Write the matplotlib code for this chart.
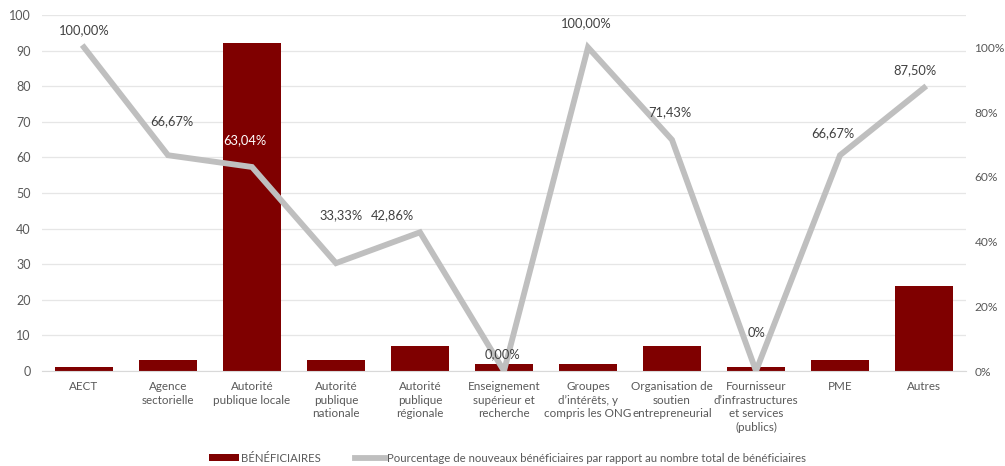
import matplotlib
matplotlib.use("Agg")
import matplotlib.pyplot as plt
from matplotlib.ticker import FixedLocator

plt.rcParams['font.family'] = ['Lato', 'DejaVu Sans']

categories = ["AECT", "Agence\nsectorielle", "Autorité\npublique locale",
              "Autorité\npublique\nnationale", "Autorité\npublique\nrégionale",
              "Enseignement\nsupérieur et\nrecherche", "Groupes\nd’intérêts, y\ncompris les ONG",
              "Organisation de\nsoutien\nentrepreneurial",
              "Fournisseur\nd’infrastructures\net services\n(publics)", "PME", "Autres"]
beneficiaires = [1, 3, 92, 3, 7, 2, 2, 7, 1, 3, 24]
pourcentage = [100.0, 66.67, 63.04, 33.33, 42.86, 0.0, 100.0, 71.43, 0.0, 66.67, 87.50]
point_labels = ["100,00%", "66,67%", "63,04%", "33,33%", "42,86%", "0,00%",
                "100,00%", "71,43%", "0%", "66,67%", "87,50%"]
left_ticks = [0, 10, 20, 30, 40, 50, 60, 70, 80, 90, 100]
right_ticks = [0, 20, 40, 60, 80, 100]

# label placement offsets (x in category units, y in percent units)
lab_dx = [0.0, 0.05, -0.08, 0.06, -0.33, -0.02, -0.02, -0.02, 0.01, -0.08, -0.11]
lab_dy = [5.2, 10.5, 8.3, 14.8, 5.2, 5.2, 7.4, 8.5, 11.7, 6.8, 5.4]

txt = '#595959'
fig = plt.figure(figsize=(10.05, 4.66), dpi=100)
ax = fig.add_axes([42/1005, 95/466, 924/1005, 356/466])
x = list(range(len(categories)))
ax.bar(x, beneficiaires, width=0.68, color='#7F0000', zorder=2, label='BÉNÉFICIAIRES')
ax.set_ylim(0, 100)
ax.set_xlim(-0.5, len(categories) - 0.5)
ax.yaxis.set_major_locator(FixedLocator(left_ticks))
ax.grid(axis='y', color='#E6E6E6', linewidth=0.9, zorder=0)
ax.set_axisbelow(True)
for s in ['top', 'right', 'left']:
    ax.spines[s].set_visible(False)
ax.spines['bottom'].set_color('#D9D9D9')
ax.tick_params(axis='both', length=0, colors=txt, labelsize=9)
ax.tick_params(axis='y', pad=8)
ax.set_xticks(x)
ax.set_xticklabels(categories, fontsize=8.4, color=txt, linespacing=1.32, va='top')
ax.tick_params(axis='x', pad=7)

ax2 = ax.twinx()
ax2.plot(x, pourcentage, color='#BFBFBF', linewidth=4.2, zorder=3,
         solid_joinstyle='miter',
         label='Pourcentage de nouveaux bénéficiaires par rapport au nombre total de bénéficiaires')
ax2.set_ylim(0, 110)
ax2.yaxis.set_major_locator(FixedLocator(right_ticks))
ax2.set_yticklabels([f"{t}%" for t in right_ticks])
for s in ['top', 'right', 'left', 'bottom']:
    ax2.spines[s].set_visible(False)
ax2.tick_params(axis='y', length=0, colors=txt, labelsize=8.6, pad=6)
ax2.set_xlim(-0.5, len(categories) - 0.5)

for i, (v, lab) in enumerate(zip(pourcentage, point_labels)):
    col = 'white' if i == 2 else '#404040'
    ax2.text(i + lab_dx[i], v + lab_dy[i], lab, ha='center', va='center',
             fontsize=9.3, color=col, zorder=5)

h1, l1 = ax.get_legend_handles_labels()
h2, l2 = ax2.get_legend_handles_labels()
fig.legend(h1 + h2, l1 + l2, loc='center', bbox_to_anchor=(0.505, 8/466), ncol=2,
           frameon=False, fontsize=8.2, labelcolor=txt, handlelength=2.6,
           handleheight=0.6, columnspacing=3.0, handletextpad=0.2)

fig.savefig('out.png', dpi=100)
